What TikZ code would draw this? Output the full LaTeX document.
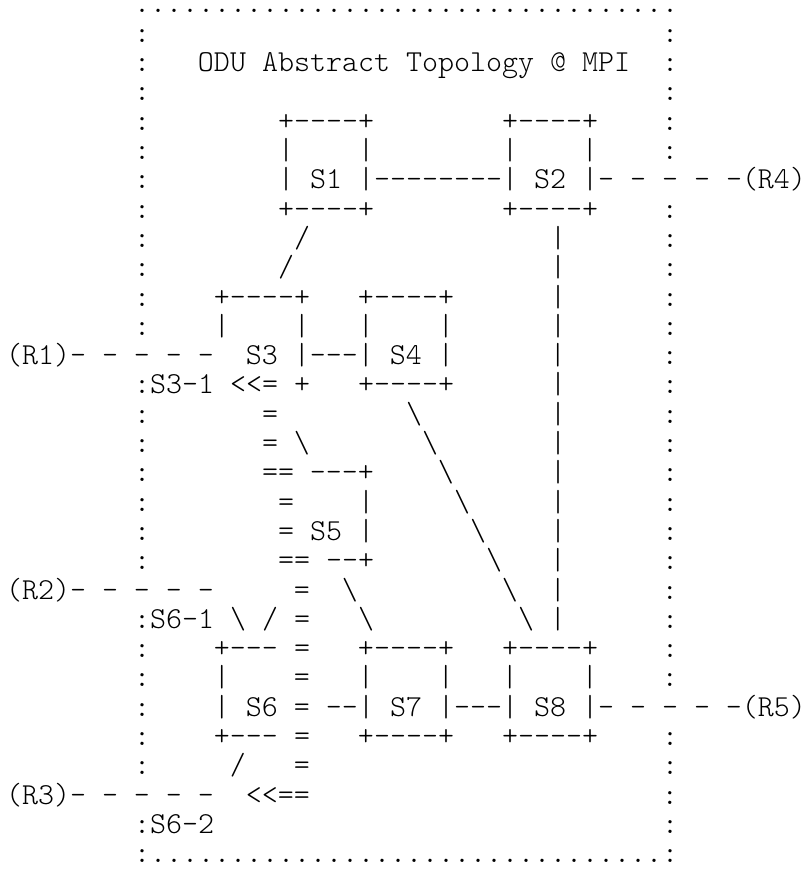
\documentclass[tikz,border=0pt]{standalone}
\usepackage{fontspec}
\setmonofont{lmmonolt10-regular.otf}
% run of blank character cells
\newcommand\gap[1]{\hspace*{#1\fontcharwd\font`M}}
\newcommand\bs{\textbackslash}
\tikzset{
  asc/.style={anchor=base west, inner sep=0pt, outer sep=0pt,
    font=\ttfamily\fontsize{30.476}{29.3}\selectfont\frenchspacing}
}
\begin{document}
\begin{tikzpicture}[x=16pt, y=-29.3pt]
  \useasboundingbox (0pt,0pt) rectangle (801pt,-869pt);
  \begin{scope}[shift={(6pt,-13pt)}]
    % Frame top and title
    \node[asc] (r1) at (8,0) {..................................};
    \node[asc] (r2) at (8,1) {:\gap{32}:};
    \node[asc] (r3) at (8,2) {:\gap{3}ODU Abstract Topology @ MPI\gap{2}:};
    \node[asc] (r4) at (8,3) {:\gap{32}:};

    % S1 and S2
    \node[asc] (r5) at (8,4) {:\gap{8}+----+\gap{8}+----+\gap{4}:};
    \node[asc] (r6) at (8,5) {:\gap{8}|\gap{4}|\gap{8}|\gap{4}|\gap{4}:};
    \node[asc] (r7) at (8,6) {:\gap{8}| S1 |--------| S2 |- - - - -(R4)};
    \node[asc] (r8) at (8,7) {:\gap{8}+----+\gap{8}+----+\gap{4}:};
    \node[asc] (r9) at (8,8) {:\gap{9}/\gap{15}|\gap{6}:};
    \node[asc] (r10) at (8,9) {:\gap{8}/\gap{16}|\gap{6}:};

    % S3 and S4
    \node[asc] (r11) at (8,10) {:\gap{4}+----+\gap{3}+----+\gap{6}|\gap{6}:};
    \node[asc] (r12) at (8,11) {:\gap{4}|\gap{4}|\gap{3}|\gap{4}|\gap{6}|\gap{6}:};
    \node[asc] (r13) at (0,12) {(R1)- - - - -\gap{2}S3 |---| S4 |\gap{6}|\gap{6}:};
    \node[asc] (r14) at (8,13) {:S3-1 <<= +\gap{3}+----+\gap{6}|\gap{6}:};
    \node[asc] (r15) at (8,14) {:\gap{7}=\gap{8}\bs\gap{8}|\gap{6}:};
    \node[asc] (r16) at (8,15) {:\gap{7}=\gap{1}\bs\gap{7}\bs\gap{7}|\gap{6}:};

    % S5
    \node[asc] (r17) at (8,16) {:\gap{7}== ---+\gap{4}\bs\gap{6}|\gap{6}:};
    \node[asc] (r18) at (8,17) {:\gap{8}=\gap{4}|\gap{5}\bs\gap{5}|\gap{6}:};
    \node[asc] (r19) at (8,18) {:\gap{8}= S5 |\gap{6}\bs\gap{4}|\gap{6}:};
    \node[asc] (r20) at (8,19) {:\gap{8}== --+\gap{7}\bs\gap{3}|\gap{6}:};
    \node[asc] (r21) at (0,20) {(R2)- - - - -\gap{5}=\gap{2}\bs\gap{9}\bs\gap{2}|\gap{6}:};
    \node[asc] (r22) at (8,21) {:S6-1\gap{1}\bs\gap{1}/\gap{1}=\gap{3}\bs\gap{9}\bs\gap{1}|\gap{6}:};

    % S6, S7 and S8
    \node[asc] (r23) at (8,22) {:\gap{4}+---\gap{1}=\gap{3}+----+\gap{3}+----+\gap{4}:};
    \node[asc] (r24) at (8,23) {:\gap{4}|\gap{4}=\gap{3}|\gap{4}|\gap{3}|\gap{4}|\gap{4}:};
    \node[asc] (r25) at (8,24) {:\gap{4}| S6 = --| S7 |---| S8 |- - - - -(R5)};
    \node[asc] (r26) at (8,25) {:\gap{4}+---\gap{1}=\gap{3}+----+\gap{3}+----+\gap{4}:};
    \node[asc] (r27) at (8,26) {:\gap{5}/\gap{3}=\gap{22}:};
    \node[asc] (r28) at (0,27) {(R3)- - - - -\gap{2}<<==\gap{22}:};
    \node[asc] (r29) at (8,28) {:S6-2\gap{28}:};

    % Frame bottom
    \node[asc] (r30) at (8,29) {:................................:};
  \end{scope}
\end{tikzpicture}
\end{document}
